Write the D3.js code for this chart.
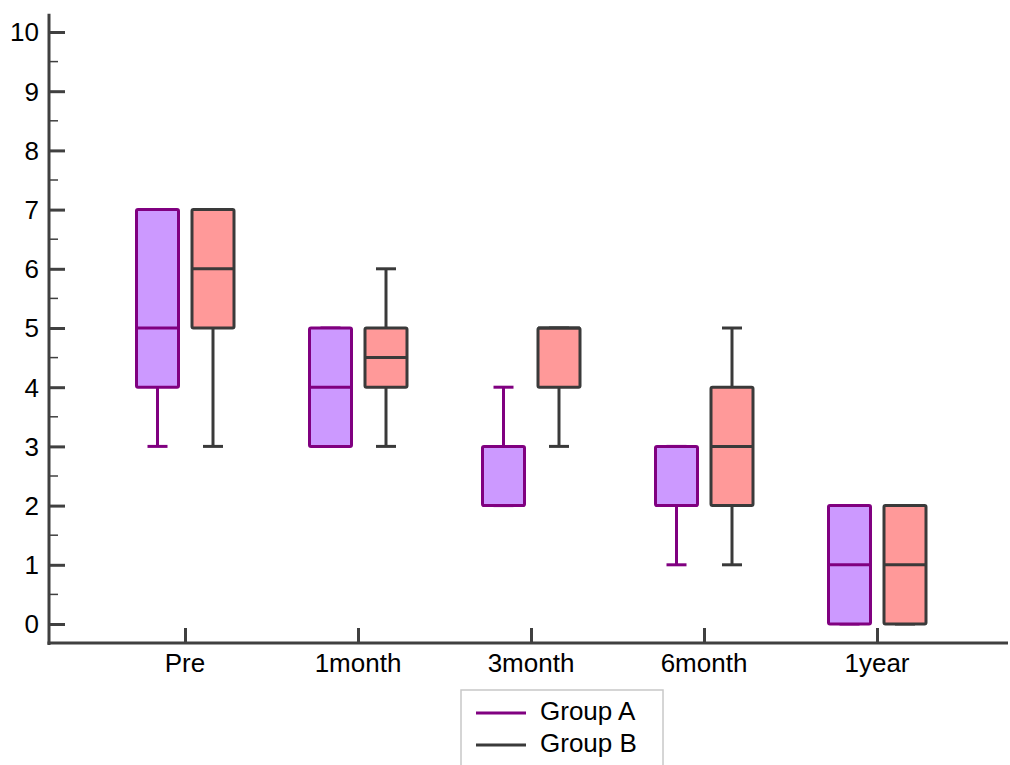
<!DOCTYPE html>
<html>
<head>
<meta charset="utf-8">
<script src="https://cdn.jsdelivr.net/npm/d3@7"></script>
<style>
  body { margin: 0; background: #fff; }
  text { font-family: "Liberation Sans", Arial, sans-serif; fill: #000; }
</style>
</head>
<body>
<div class="chartDiv"></div>
<script>
// categories and five-number summaries [min, q1, median, q3, max]
var categories = ["Pre", "1month", "3month", "6month", "1year"];
var groupA = [[3, 4, 5, 7, 7], [3, 3, 4, 5, 5], [2, 2, 2, 3, 4], [1, 2, 2, 3, 3], [0, 0, 1, 2, 2]];
var groupB = [[3, 5, 6, 7, 7], [3, 4, 4.5, 5, 6], [3, 4, 5, 5, 5], [1, 2, 3, 4, 5], [0, 0, 1, 2, 2]];
var seriesNames = ["Group A", "Group B"];
var yTicks = [0, 1, 2, 3, 4, 5, 6, 7, 8, 9, 10];

var W = 1010, H = 765;
var axisColor = "#404040";
var fontSize = 26;

var svg = d3.select("div.chartDiv").append("svg")
  .attr("width", W).attr("height", H);

var y = d3.scaleLinear().domain([0, 10]).range([624, 32]);
var x = d3.scalePoint().domain(categories).range([185, 877]);

var styles = [
  {stroke: "#800080", fill: "#cc99ff", offset: -27.5},
  {stroke: "#3a3a3a", fill: "#ff9999", offset: 28}
];
var boxW = 42, capW = 20;

// boxes
[groupA, groupB].forEach(function(series, si) {
  var st = styles[si];
  var g = svg.append("g").attr("class", "series" + si);
  series.forEach(function(d, i) {
    var cx = x(categories[i]) + st.offset;
    // whiskers
    g.append("line").attr("x1", cx).attr("x2", cx).attr("y1", y(d[0])).attr("y2", y(d[1]))
      .attr("stroke", st.stroke).attr("stroke-width", 3);
    g.append("line").attr("x1", cx).attr("x2", cx).attr("y1", y(d[3])).attr("y2", y(d[4]))
      .attr("stroke", st.stroke).attr("stroke-width", 3);
    [d[0], d[4]].forEach(function(v) {
      g.append("line").attr("x1", cx - capW / 2).attr("x2", cx + capW / 2)
        .attr("y1", y(v)).attr("y2", y(v))
        .attr("stroke", st.stroke).attr("stroke-width", 3);
    });
    g.append("rect").attr("x", cx - boxW / 2).attr("y", y(d[3]))
      .attr("width", boxW).attr("height", y(d[1]) - y(d[3]))
      .attr("rx", 1.5)
      .attr("fill", st.fill).attr("stroke", st.stroke).attr("stroke-width", 3);
    g.append("line").attr("x1", cx - boxW / 2).attr("x2", cx + boxW / 2)
      .attr("y1", y(d[2])).attr("y2", y(d[2]))
      .attr("stroke", st.stroke).attr("stroke-width", 3);
  });
});

// y axis
var x0 = 49;
svg.append("line").attr("x1", x0).attr("x2", x0).attr("y1", y(10.31)).attr("y2", 645)
  .attr("stroke", axisColor).attr("stroke-width", 3);
var yAxis = d3.axisRight(y).tickValues(yTicks).tickSize(16).tickFormat("");
var yg = svg.append("g").attr("transform", "translate(" + x0 + ",0)").call(yAxis);
yg.select(".domain").remove();
yg.selectAll(".tick line").attr("stroke", axisColor).attr("stroke-width", 3);
var minor = d3.range(0.5, 10, 1);
svg.append("g").selectAll("line").data(minor).enter().append("line")
  .attr("x1", x0).attr("x2", x0 + 9)
  .attr("y1", function(d) { return y(d); }).attr("y2", function(d) { return y(d); })
  .attr("stroke", axisColor).attr("stroke-width", 1.5);
svg.append("g").selectAll("text").data(yTicks).enter().append("text")
  .attr("x", 39).attr("y", function(d) { return y(d); })
  .attr("dy", "0.36em").attr("text-anchor", "end").attr("font-size", fontSize)
  .text(function(d) { return d; });

// x axis
var yBase = 643;
svg.append("line").attr("x1", x0 - 1.5).attr("x2", 1008).attr("y1", yBase).attr("y2", yBase)
  .attr("stroke", axisColor).attr("stroke-width", 3);
var xAxis = d3.axisTop(x).tickSize(15).tickFormat("");
var xg = svg.append("g").attr("transform", "translate(0," + yBase + ")").call(xAxis);
xg.select(".domain").remove();
xg.selectAll(".tick line").attr("stroke", axisColor).attr("stroke-width", 3);
svg.append("g").selectAll("text").data(categories).enter().append("text")
  .attr("x", function(d) { return x(d); }).attr("y", 672)
  .attr("text-anchor", "middle").attr("font-size", fontSize)
  .text(function(d) { return d; });

// legend
var lg = svg.append("g");
lg.append("rect").attr("x", 461).attr("y", 690).attr("width", 202).attr("height", 100)
  .attr("fill", "#fff").attr("stroke", "#c8c8c8").attr("stroke-width", 1.5);
seriesNames.forEach(function(name, i) {
  var ly = 713 + i * 32;
  lg.append("line").attr("x1", 476).attr("x2", 526).attr("y1", ly).attr("y2", ly)
    .attr("stroke", styles[i].stroke).attr("stroke-width", 3);
  lg.append("text").attr("x", 540).attr("y", ly + 7)
    .attr("font-size", fontSize).text(name);
});
</script>
</body>
</html>
